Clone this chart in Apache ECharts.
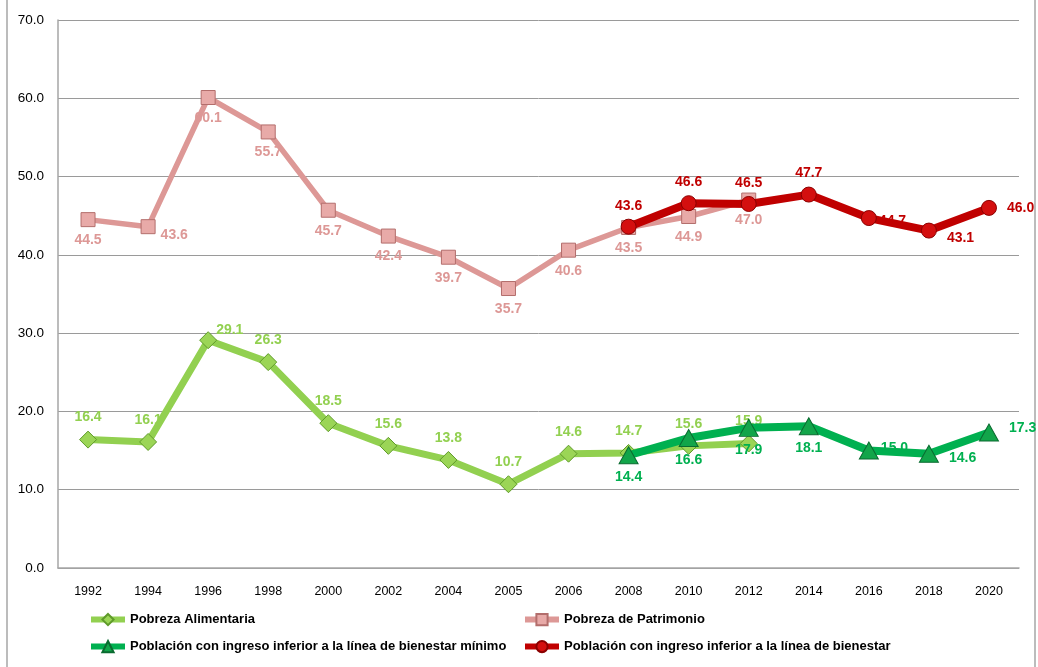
<!DOCTYPE html>
<html><head><meta charset="utf-8">
<script src="https://cdn.jsdelivr.net/npm/echarts@6/dist/echarts.min.js"></script>
<style>html,body{margin:0;padding:0;background:#fff}#c{width:1038px;height:667px}</style>
</head><body><div id="c"></div>
<script>
const years = ['1992','1994','1996','1998','2000','2002','2004','2005','2006','2008','2010','2012','2014','2016','2018','2020'];
const yTicks = [0,10,20,30,40,50,60,70];
const alimentaria = [16.4,16.1,29.1,26.3,18.5,15.6,13.8,10.7,14.6,14.7,15.6,15.9,null,null,null,null];
const patrimonio  = [44.5,43.6,60.1,55.7,45.7,42.4,39.7,35.7,40.6,43.5,44.9,47.0,null,null,null,null];
const bienestarMin = [null,null,null,null,null,null,null,null,null,14.4,16.6,17.9,18.1,15.0,14.6,17.3];
const bienestar    = [null,null,null,null,null,null,null,null,null,43.6,46.6,46.5,47.7,44.7,43.1,46.0];
const names = ['Pobreza Alimentaria','Pobreza de Patrimonio','Población con ingreso inferior a la línea de bienestar mínimo','Población con ingreso inferior a la línea de bienestar'];

const FONT = 'Liberation Sans, sans-serif';
function withPos(arr, posFn){
  return arr.map((v,i)=> v==null ? null : {value:v, label:posFn(i)});
}
const lbl = (color)=>({show:true, color:color, fontWeight:'bold', fontSize:14, fontFamily:FONT, formatter:p=>p.value==null?'':Number(p.value).toFixed(1)});

const chart = echarts.init(document.getElementById('c'));
const legendBase = {itemWidth:34, itemHeight:14, lineStyle:{width:6}, textStyle:{fontFamily:FONT, fontWeight:'bold', fontSize:13, color:'#000'}, itemGap:0, padding:0};
chart.setOption({
  animation:false,
  grid:{left:58, right:19, top:20, bottom:99},
  xAxis:{type:'category', data:years, boundaryGap:true,
    axisLine:{lineStyle:{color:'#a6a6a6', width:1.5}}, axisTick:{show:false},
    axisLabel:{color:'#000', fontSize:12.5, fontFamily:FONT, margin:17}},
  yAxis:{type:'value', min:0, max:70, interval:10,
    axisLine:{show:true, lineStyle:{color:'#a6a6a6', width:1.5}}, axisTick:{show:false},
    splitLine:{lineStyle:{color:'#9a9a9a', width:1}},
    axisLabel:{color:'#000', fontSize:13.5, fontFamily:FONT, margin:14, formatter:v=>v.toFixed(1)}},
  legend:[
    Object.assign({}, legendBase, {data:[names[0]], left:88, top:613}),
    Object.assign({}, legendBase, {data:[names[1]], left:522, top:613}),
    Object.assign({}, legendBase, {data:[names[2]], left:88, top:640}),
    Object.assign({}, legendBase, {data:[names[3]], left:522, top:640})
  ],
  graphic:[
    {type:'line', shape:{x1:7,y1:0,x2:7,y2:667}, style:{stroke:'#a6a6a6', lineWidth:1.5}},
    {type:'line', shape:{x1:1035,y1:0,x2:1035,y2:667}, style:{stroke:'#a6a6a6', lineWidth:1.5}}
  ],
  series:[
    {name:names[1], type:'line', z:2, data:withPos(patrimonio, i=> i===1?{position:'right',offset:[0,8]}:{position:'bottom', distance:6}),
     lineStyle:{color:'#dd9896', width:5.5}, itemStyle:{color:'#e8aaa8', borderColor:'#b36e6c', borderWidth:1},
     symbol:'rect', symbolSize:14, label:lbl('#dd9896'), connectNulls:false},
    {name:names[0], type:'line', z:3, data:withPos(alimentaria, i=> i===2?{position:'right', offset:[-6,-10]}:{position:'top', distance:6}),
     lineStyle:{color:'#92d050', width:7}, itemStyle:{color:'#9bd556', borderColor:'#5f9a2a', borderWidth:1},
     symbol:'diamond', symbolSize:[17,17], label:lbl('#92d050')},
    {name:names[3], type:'line', z:4, data:withPos(bienestar, i=> i>=13?{position:'right', distance:i===13?2:10, offset:i===13?[0,3]:(i===14?[0,8]:[0,0])}:{position:'top', distance:6}),
     lineStyle:{color:'#c00000', width:8}, itemStyle:{color:'#d40f0f', borderColor:'#8a0000', borderWidth:1},
     symbol:'circle', symbolSize:15, label:lbl('#c00000')},
    {name:names[2], type:'line', z:5, data:withPos(bienestarMin, i=> i>=13?{position:'right', distance:i===13?2:10, offset:i===13?[0,-2]:(i===14?[0,4]:[0,-4])}:{position:'bottom', distance:6}),
     lineStyle:{color:'#00b050', width:8}, itemStyle:{color:'#12a54a', borderColor:'#0a6b30', borderWidth:1},
     symbol:'triangle', symbolSize:[19,17], label:lbl('#00b050')}
  ]
});
</script></body></html>
